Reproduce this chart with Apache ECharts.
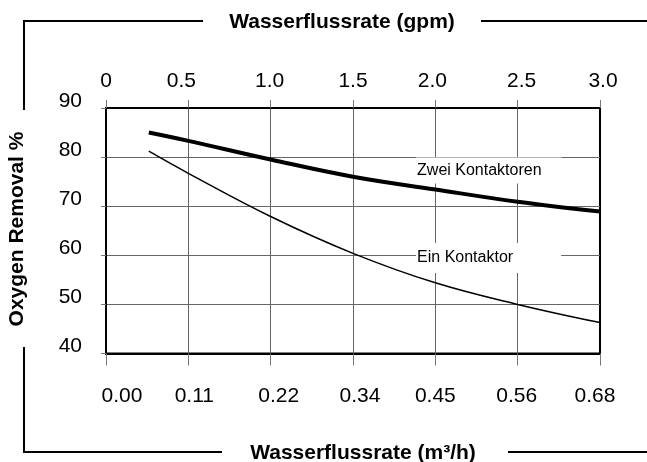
<!DOCTYPE html>
<html>
<head>
<meta charset="utf-8">
<script src="https://cdn.jsdelivr.net/npm/echarts@6/dist/echarts.min.js"></script>
<style>
  html, body { margin: 0; padding: 0; background: #fff; }
  #chart { width: 647px; height: 462px; }
</style>
</head>
<body>
<div id="chart"></div>
<script>
// flow in gpm (top axis) and oxygen removal %
const flowGpm = [0.26, 0.5, 1.0, 1.5, 2.0, 2.5, 3.0]
const zweiKontaktoren = [85.0, 83.3, 79.5, 76.0, 73.4, 70.9, 68.9]
const einKontaktor = [81.2, 76.7, 67.9, 60.4, 54.4, 50.0, 46.3]

const gpmLabels = ['0', '0.5', '1.0', '1.5', '2.0', '2.5', '3.0']
const m3hLabels = ['0.00', '0.11', '0.22', '0.34', '0.45', '0.56', '0.68']

const FONT = '"Liberation Sans", Arial, sans-serif'

// small nudges so tick labels sit where the original put them
const topShift = [0, -7, -1, 0, -3, 4, 3]
const botShift = [16, 6, 8, 7, 0, -1, -5]

function richFor(shifts) {
  const r = {}
  shifts.forEach((s, i) => {
    r['s' + i] = {
      fontSize: 21, fontFamily: FONT, color: '#000',
      padding: s >= 0 ? [0, 0, 0, 2 * s] : [0, -2 * s, 0, 0],
    }
  })
  return r
}

const chart = echarts.init(document.getElementById('chart'))

chart.setOption({
  animation: false,
  grid: {
    left: 106, top: 108, right: 47, bottom: 108.5,
    show: true, borderColor: '#000', borderWidth: 2,
  },
  xAxis: [
    {
      type: 'value', position: 'top', min: 0, max: 3, interval: 0.5,
      axisLine: { show: true, lineStyle: { color: '#000', width: 2 } },
      axisTick: { show: true, inside: false, length: 8, lineStyle: { color: '#777', width: 1 } },
      splitLine: { show: true, showMinLine: false, showMaxLine: false, lineStyle: { color: '#666', width: 1 } },
      axisLabel: {
        margin: 16, color: '#000',
        formatter: (v) => {
          const i = Math.round(v / 0.5)
          return '{s' + i + '|' + gpmLabels[i] + '}'
        },
        rich: richFor(topShift),
      },
    },
    {
      type: 'value', position: 'bottom', min: 0, max: 3, interval: 0.5,
      axisLine: { show: true, lineStyle: { color: '#000', width: 2 } },
      axisTick: { show: true, inside: false, length: 12, lineStyle: { color: '#777', width: 1 } },
      splitLine: { show: false },
      axisLabel: {
        margin: 32, color: '#000',
        formatter: (v) => {
          const i = Math.round(v / 0.5)
          return '{s' + i + '|' + m3hLabels[i] + '}'
        },
        rich: richFor(botShift),
      },
    },
  ],
  yAxis: {
    type: 'value', min: 40, max: 90, interval: 10,
    axisLine: { show: true, lineStyle: { color: '#000', width: 2 } },
    axisTick: { show: true, inside: false, length: 5, lineStyle: { color: '#777', width: 1 } },
    splitLine: { show: true, showMinLine: false, showMaxLine: false, lineStyle: { color: '#666', width: 1 } },
    axisLabel: {
      margin: 24, color: '#000', fontSize: 21, fontFamily: FONT,
      verticalAlign: 'bottom', lineHeight: 14,
    },
  },
  series: [
    {
      name: 'Zwei Kontaktoren',
      type: 'line',
      xAxisIndex: 0,
      data: flowGpm.map((x, i) => [x, zweiKontaktoren[i]]),
      smooth: 0.4,
      symbol: 'none',
      lineStyle: { color: '#000', width: 4 },
      z: 3,
      markPoint: {
        silent: true,
        symbol: 'rect', symbolSize: 1,
        itemStyle: { color: 'rgba(0,0,0,0)' },
        data: [{ name: 'Zwei Kontaktoren', coord: [1.883, 77.27] }],
        label: {
          show: true, position: 'inside', align: 'left', verticalAlign: 'middle',
          formatter: '{b}', color: '#000', fontSize: 16, fontFamily: FONT, lineHeight: 16,
          backgroundColor: '#fff', padding: [3, 20, 7, 1],
        },
      },
    },
    {
      name: 'Ein Kontaktor',
      type: 'line',
      xAxisIndex: 0,
      data: flowGpm.map((x, i) => [x, einKontaktor[i]]),
      smooth: 0.4,
      symbol: 'none',
      lineStyle: { color: '#000', width: 1.5 },
      z: 3,
      markPoint: {
        silent: true,
        symbol: 'rect', symbolSize: 1,
        itemStyle: { color: 'rgba(0,0,0,0)' },
        data: [{ name: 'Ein Kontaktor', coord: [1.883, 59.45] }],
        label: {
          show: true, position: 'inside', align: 'left', verticalAlign: 'middle',
          formatter: '{b}', color: '#000', fontSize: 16, fontFamily: FONT, lineHeight: 16,
          backgroundColor: '#fff', padding: [3, 48, 11, 1],
        },
      },
    },
  ],
  graphic: [
    { type: 'polyline', shape: { points: [[24, 110], [24, 21], [203, 21]] }, style: { stroke: '#000', lineWidth: 2, fill: null } },
    { type: 'line', shape: { x1: 481, y1: 21, x2: 647, y2: 21 }, style: { stroke: '#000', lineWidth: 2 } },
    { type: 'polyline', shape: { points: [[24, 347], [24, 452], [222, 452]] }, style: { stroke: '#000', lineWidth: 2, fill: null } },
    { type: 'line', shape: { x1: 508, y1: 452, x2: 647, y2: 452 }, style: { stroke: '#000', lineWidth: 2 } },
    {
      type: 'text', x: 342, y: 22,
      style: { text: 'Wasserflussrate (gpm)', fill: '#000', font: 'bold 21px ' + FONT, align: 'center', verticalAlign: 'middle' },
    },
    {
      type: 'text', x: 363, y: 453,
      style: { text: 'Wasserflussrate (m³/h)', fill: '#000', font: 'bold 21px ' + FONT, align: 'center', verticalAlign: 'middle' },
    },
    {
      type: 'text', x: 17, y: 229, rotation: Math.PI / 2,
      style: { text: 'Oxygen Removal %', fill: '#000', font: 'bold 21px ' + FONT, align: 'center', verticalAlign: 'middle' },
    },
  ],
})
</script>
</body>
</html>
